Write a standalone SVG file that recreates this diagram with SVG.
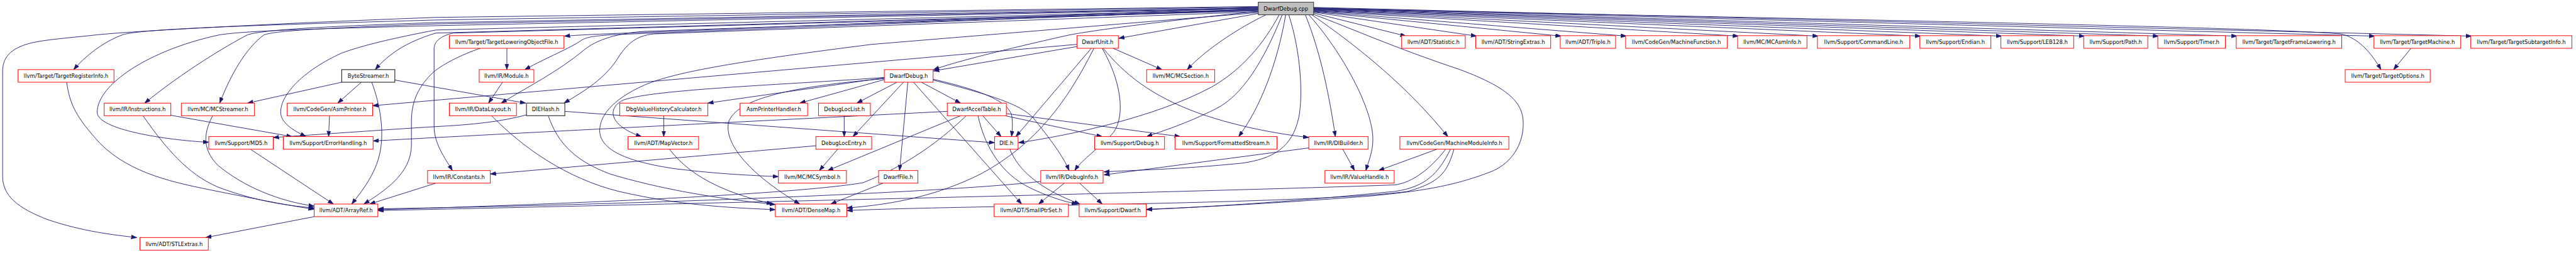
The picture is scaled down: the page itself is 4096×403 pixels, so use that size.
<svg xmlns="http://www.w3.org/2000/svg" width="4096" height="403" viewBox="0 0 4096 403">
<style>
.node rect{fill:#ffffff;stroke:#ff0000;stroke-width:1.4}
.node.blk rect{stroke:#000000}
.node.dk rect{stroke:#404040;stroke-width:1.8}
.node.main rect{fill:#bfbfbf;stroke:#404040;stroke-width:1.6}
.node text{font-family:"DejaVu Sans",sans-serif;font-size:12.2px;fill:#000;text-anchor:middle}
.edges path{fill:none;stroke:#191970;stroke-width:1.3;marker-end:url(#ah)}
</style>
<defs>
<marker id="ah" markerUnits="userSpaceOnUse" markerWidth="14" markerHeight="10" refX="13" refY="4.5" orient="auto" viewBox="0 0 14 10">
<path d="M0,0 L13,4.5 L0,9 z" fill="#191970" stroke="#191970" stroke-width="1"/>
</marker>
</defs>
<rect width="4096" height="403" fill="#ffffff"/>
<g transform="scale(0.693)">
<g id="edges" class="edges">
<path d="M2887,15 L1000,40 C600,55 300,72 223,80 C150,88 90,92 60,102 C20,115 6,135 6,165 L6,405 C6,450 40,478 110,505 C190,532 260,540 314,546"/>
<path d="M2887,16 L1000,46 C500,60 320,68 281,80 C235,97 195,130 169,160"/>
<path d="M2887,18 L1000,52 C700,62 600,70 568,80 C520,105 420,165 332,237"/>
<path d="M2887,19 L1000,55 C700,66 630,72 606,80 C565,110 530,170 504,237"/>
<path d="M2887,20 L1000,59 C650,68 560,72 504,80 C340,115 223,195 223,258 C223,298 380,322 479,327"/>
<path d="M2887,22 L1000,69 C900,88 830,105 784,122 C700,160 644,215 644,258 C644,285 680,303 702,314"/>
<path d="M2887,23 L1000,76 C930,97 890,126 861,160"/>
<path d="M2887,25 L1040,76 C1012,82 996,95 996,112 L996,290 C996,330 1020,362 1038,392"/>
<path d="M2887,17 L1440,76 C1380,78 1320,81 1295,83"/>
<path d="M2887,21 L1400,80 C1360,83 1345,86 1335,92 C1310,110 1255,132 1204,160"/>
<path d="M2887,23 L1480,72 C1420,76 1370,90 1340,115 C1280,165 1210,200 1150,237"/>
<path d="M2887,27 L1500,78 C1460,82 1440,100 1420,130 C1390,180 1340,210 1294,237"/>
<path d="M2887,29 L2000,102 C1700,140 1550,165 1480,195 C1400,230 1376,270 1376,300 C1376,345 1440,372 1550,388 C1650,400 1720,403 1786,406"/>
<path d="M2887,26 C2700,45 2500,70 2446,82 C2300,115 2200,140 2142,160"/>
<path d="M2887,31 L2567,88"/>
<path d="M2905,34 C2850,60 2770,110 2724,160"/>
<path d="M2935,34 C2900,100 2850,160 2780,200 C2650,270 2450,312 2337,328"/>
<path d="M2942,34 C2900,140 2850,220 2790,250 C2720,285 2670,300 2631,314"/>
<path d="M2950,34 C2930,150 2890,250 2842,314"/>
<path d="M2957,34 C2985,120 2990,220 2980,270 C2965,340 2920,365 2850,375 C2700,390 2600,391 2533,395"/>
<path d="M2995,34 C3030,120 3050,220 3064,314"/>
<path d="M3003,34 C3080,120 3150,250 3150,320 C3150,350 3140,370 3134,392"/>
<path d="M3010,34 C3120,110 3230,200 3322,314"/>
<path d="M3014,33 C3100,65 3200,110 3350,160 C3470,205 3495,240 3495,285 C3495,340 3460,380 3420,395 C3330,430 3250,440 3150,450 C2900,470 2700,478 2631,482"/>
<path d="M3014,30 L3226,83"/>
<path d="M3014,28 L3388,83"/>
<path d="M3014,27 L3582,83"/>
<path d="M3014,26 L3732,83"/>
<path d="M3014,25 L3989,83"/>
<path d="M3014,24 L4172,83"/>
<path d="M3014,23 L4407,83"/>
<path d="M3014,22 L4593,83"/>
<path d="M3014,21 L4783,83"/>
<path d="M3014,20 L4953,83"/>
<path d="M3014,19 L5133,83"/>
<path d="M3014,18 L5449,83"/>
<path d="M3014,17 L5671,83"/>
<path d="M3014,20 C4000,40 5200,62 5370,78 C5410,86 5440,120 5463,160"/>
<path d="M1163,111 L1163,160"/>
<path d="M1102,111 C1060,125 1010,150 990,170 C955,205 944,240 944,280 L944,333 C944,400 880,440 835,469"/>
<path d="M1153,189 L1121,237"/>
<path d="M906,184 L1206,237"/>
<path d="M784,189 L568,237"/>
<path d="M829,189 L775,237"/>
<path d="M853,189 C872,240 882,300 872,350 C862,400 830,440 807,469"/>
<path d="M392,265 L670,314"/>
<path d="M328,266 C380,340 430,400 500,430 C580,460 650,472 721,478"/>
<path d="M488,266 C470,300 460,340 500,380 C560,430 640,462 721,474"/>
<path d="M153,189 C160,240 175,270 230,330 C300,400 400,420 500,440 C600,460 660,472 721,481"/>
<path d="M576,344 L765,469"/>
<path d="M756,266 L754,314"/>
<path d="M721,498 L472,546"/>
<path d="M1208,264 C1150,280 1080,287 1000,291 C900,297 720,310 627,316"/>
<path d="M1296,256 L2282,328"/>
<path d="M1258,266 C1280,330 1320,370 1400,400 C1550,445 1700,462 1779,470"/>
<path d="M1128,266 C1200,340 1300,410 1420,440 C1570,475 1700,478 1779,482"/>
<path d="M1523,266 L1523,314"/>
<path d="M1536,343 C1580,400 1650,440 1772,469"/>
<path d="M1937,266 L1937,314"/>
<path d="M1922,343 L1880,392"/>
<path d="M1872,335 L1125,400"/>
<path d="M2026,421 L1906,469"/>
<path d="M2029,183 L1835,237"/>
<path d="M2029,179 L1624,237"/>
<path d="M2058,189 L1966,237"/>
<path d="M2073,189 L1957,314"/>
<path d="M2029,178 C1800,195 1500,205 1430,230 C1390,250 1400,290 1472,314"/>
<path d="M2029,181 C1800,200 1690,230 1672,280 C1660,330 1720,400 1835,469"/>
<path d="M2114,189 L2204,237"/>
<path d="M2083,189 L2064,392"/>
<path d="M2096,189 L2344,469"/>
<path d="M2141,182 C2260,210 2318,235 2322,270 C2324,290 2322,305 2321,314"/>
<path d="M2141,184 C2280,220 2340,240 2370,270 C2410,320 2440,360 2453,392"/>
<path d="M2471,102 L855,243"/>
<path d="M2471,107 L2142,163"/>
<path d="M2554,111 L2666,160"/>
<path d="M2504,111 L2331,314"/>
<path d="M2510,111 C2450,230 2380,330 2250,400 C2150,450 2050,470 1943,478"/>
<path d="M2529,111 C2580,200 2580,280 2550,310 C2510,350 2480,370 2466,392"/>
<path d="M2531,111 C2580,170 2640,220 2750,260 C2850,295 2950,310 3003,316"/>
<path d="M2255,266 L2297,314"/>
<path d="M2306,266 L2529,314"/>
<path d="M2309,261 L2708,314"/>
<path d="M2244,266 C2260,340 2300,400 2360,430 C2410,455 2450,465 2472,469"/>
<path d="M2204,266 L1899,392"/>
<path d="M2217,266 C2120,360 2030,400 1980,420 C1800,450 1200,472 867,482"/>
<path d="M2173,256 C1800,275 1200,305 856,324"/>
<path d="M2317,343 C2340,400 2400,440 2478,469"/>
<path d="M2442,421 L2383,469"/>
<path d="M2477,421 L2529,469"/>
<path d="M2388,417 C2200,440 1500,470 867,480"/>
<path d="M3003,340 L2533,402"/>
<path d="M3081,343 L3108,392"/>
<path d="M3297,343 L3163,392"/>
<path d="M3317,343 C3280,390 3240,420 3200,425 C2800,440 1500,470 867,484"/>
<path d="M3328,343 C3300,400 3270,430 3200,440 C3000,460 2800,475 2631,481"/>
<path d="M3336,343 C3320,400 3300,420 3230,440 C3000,470 2200,472 1943,484"/>
<path d="M5532,111 L5492,160"/>
<path d="M1000,421 L848,469"/>
</g>
<g id="n_cpp" class="node main"><rect x="2887" y="5" width="127" height="29"/><text x="2950.5" y="24">DwarfDebug.cpp</text></g>
<g id="n_tri" class="node"><rect x="41.5" y="160" width="220" height="29"/><text x="151.5" y="179">llvm/Target/TargetRegisterInfo.h</text></g>
<g id="n_bs" class="node blk"><rect x="784" y="160" width="122" height="29"/><text x="845" y="179">ByteStreamer.h</text></g>
<g id="n_ins" class="node"><rect x="239" y="237" width="153" height="29"/><text x="315.5" y="256">llvm/IR/Instructions.h</text></g>
<g id="n_mcs" class="node"><rect x="416" y="237" width="168" height="29"/><text x="500" y="256">llvm/MC/MCStreamer.h</text></g>
<g id="n_ap" class="node"><rect x="659" y="237" width="196" height="29"/><text x="757" y="256">llvm/CodeGen/AsmPrinter.h</text></g>
<g id="n_md5" class="node"><rect x="479" y="314" width="148" height="29"/><text x="553" y="333">llvm/Support/MD5.h</text></g>
<g id="n_eh" class="node"><rect x="650" y="314" width="206" height="29"/><text x="753" y="333">llvm/Support/ErrorHandling.h</text></g>
<g id="n_ar" class="node"><rect x="721" y="469" width="146" height="29"/><text x="794" y="488">llvm/ADT/ArrayRef.h</text></g>
<g id="n_stl" class="node"><rect x="321" y="546" width="157" height="29"/><text x="399.5" y="565">llvm/ADT/STLExtras.h</text></g>
<g id="n_tlof" class="node"><rect x="1031" y="82" width="263" height="29"/><text x="1162.5" y="101">llvm/Target/TargetLoweringObjectFile.h</text></g>
<g id="n_mod" class="node"><rect x="1099.5" y="160" width="125.5" height="29"/><text x="1162" y="179">llvm/IR/Module.h</text></g>
<g id="n_dl" class="node"><rect x="1031" y="237" width="154" height="29"/><text x="1108" y="256">llvm/IR/DataLayout.h</text></g>
<g id="n_dh" class="node dk"><rect x="1208" y="237" width="88" height="29"/><text x="1252" y="256">DIEHash.h</text></g>
<g id="n_dvhc" class="node"><rect x="1422" y="237" width="202" height="29"/><text x="1523" y="256">DbgValueHistoryCalculator.h</text></g>
<g id="n_aph" class="node"><rect x="1698" y="237" width="155" height="29"/><text x="1775.5" y="256">AsmPrinterHandler.h</text></g>
<g id="n_dll" class="node"><rect x="1878" y="237" width="119" height="29"/><text x="1937.5" y="256">DebugLocList.h</text></g>
<g id="n_mv" class="node"><rect x="1441" y="314" width="162" height="29"/><text x="1522" y="333">llvm/ADT/MapVector.h</text></g>
<g id="n_dle" class="node"><rect x="1872" y="314" width="128" height="29"/><text x="1936" y="333">DebugLocEntry.h</text></g>
<g id="n_con" class="node"><rect x="981" y="392" width="144" height="29"/><text x="1053" y="411">llvm/IR/Constants.h</text></g>
<g id="n_mcsym" class="node"><rect x="1786" y="392" width="156" height="29"/><text x="1864" y="411">llvm/MC/MCSymbol.h</text></g>
<g id="n_dm" class="node"><rect x="1779" y="469" width="164" height="29"/><text x="1861" y="488">llvm/ADT/DenseMap.h</text></g>
<g id="n_du" class="node"><rect x="2471" y="82" width="95" height="29"/><text x="2518.5" y="101">DwarfUnit.h</text></g>
<g id="n_dd" class="node"><rect x="2029" y="160" width="112" height="29"/><text x="2085" y="179">DwarfDebug.h</text></g>
<g id="n_mcsec" class="node"><rect x="2631" y="160" width="156" height="29"/><text x="2709" y="179">llvm/MC/MCSection.h</text></g>
<g id="n_dat" class="node"><rect x="2173.5" y="237" width="135.5" height="29"/><text x="2241" y="256">DwarfAccelTable.h</text></g>
<g id="n_die" class="node"><rect x="2282" y="314" width="54" height="29"/><text x="2309" y="333">DIE.h</text></g>
<g id="n_sdbg" class="node"><rect x="2511.5" y="314" width="160.5" height="29"/><text x="2592" y="333">llvm/Support/Debug.h</text></g>
<g id="n_fs" class="node"><rect x="2696" y="314" width="234" height="29"/><text x="2813" y="333">llvm/Support/FormattedStream.h</text></g>
<g id="n_dib" class="node"><rect x="3003" y="314" width="136" height="29"/><text x="3071" y="333">llvm/IR/DIBuilder.h</text></g>
<g id="n_mmi" class="node"><rect x="3212" y="314" width="250" height="29"/><text x="3337" y="333">llvm/CodeGen/MachineModuleInfo.h</text></g>
<g id="n_df" class="node"><rect x="2016" y="392" width="90" height="29"/><text x="2061" y="411">DwarfFile.h</text></g>
<g id="n_di" class="node"><rect x="2388" y="392" width="143" height="29"/><text x="2459.5" y="411">llvm/IR/DebugInfo.h</text></g>
<g id="n_vh" class="node"><rect x="3040" y="392" width="159" height="29"/><text x="3119.5" y="411">llvm/IR/ValueHandle.h</text></g>
<g id="n_sps" class="node"><rect x="2281" y="469" width="170.5" height="29"/><text x="2366" y="488">llvm/ADT/SmallPtrSet.h</text></g>
<g id="n_dw" class="node"><rect x="2476" y="469" width="154" height="29"/><text x="2553" y="488">llvm/Support/Dwarf.h</text></g>
<g id="n_stat" class="node"><rect x="3216" y="82" width="146" height="29"/><text x="3289" y="101">llvm/ADT/Statistic.h</text></g>
<g id="n_se" class="node"><rect x="3386" y="82" width="172" height="29"/><text x="3472" y="101">llvm/ADT/StringExtras.h</text></g>
<g id="n_tri2" class="node"><rect x="3580" y="82" width="127" height="29"/><text x="3643.5" y="101">llvm/ADT/Triple.h</text></g>
<g id="n_mf" class="node"><rect x="3730" y="82" width="233" height="29"/><text x="3846.5" y="101">llvm/CodeGen/MachineFunction.h</text></g>
<g id="n_mcai" class="node"><rect x="3987" y="82" width="159" height="29"/><text x="4066.5" y="101">llvm/MC/MCAsmInfo.h</text></g>
<g id="n_cl" class="node"><rect x="4170" y="82" width="212" height="29"/><text x="4276" y="101">llvm/Support/CommandLine.h</text></g>
<g id="n_end" class="node"><rect x="4405" y="82" width="163" height="29"/><text x="4486.5" y="101">llvm/Support/Endian.h</text></g>
<g id="n_leb" class="node"><rect x="4591" y="82" width="167" height="29"/><text x="4674.5" y="101">llvm/Support/LEB128.h</text></g>
<g id="n_path" class="node"><rect x="4781" y="82" width="147" height="29"/><text x="4854.5" y="101">llvm/Support/Path.h</text></g>
<g id="n_timer" class="node"><rect x="4951" y="82" width="155" height="29"/><text x="5028.5" y="101">llvm/Support/Timer.h</text></g>
<g id="n_tfl" class="node"><rect x="5131" y="82" width="242" height="29"/><text x="5252" y="101">llvm/Target/TargetFrameLowering.h</text></g>
<g id="n_tm" class="node"><rect x="5447" y="82" width="199" height="29"/><text x="5546.5" y="101">llvm/Target/TargetMachine.h</text></g>
<g id="n_tsi" class="node"><rect x="5669" y="82" width="232" height="29"/><text x="5785" y="101">llvm/Target/TargetSubtargetInfo.h</text></g>
<g id="n_to" class="node"><rect x="5381" y="160" width="195" height="29"/><text x="5478.5" y="179">llvm/Target/TargetOptions.h</text></g>
</g>
</svg>
